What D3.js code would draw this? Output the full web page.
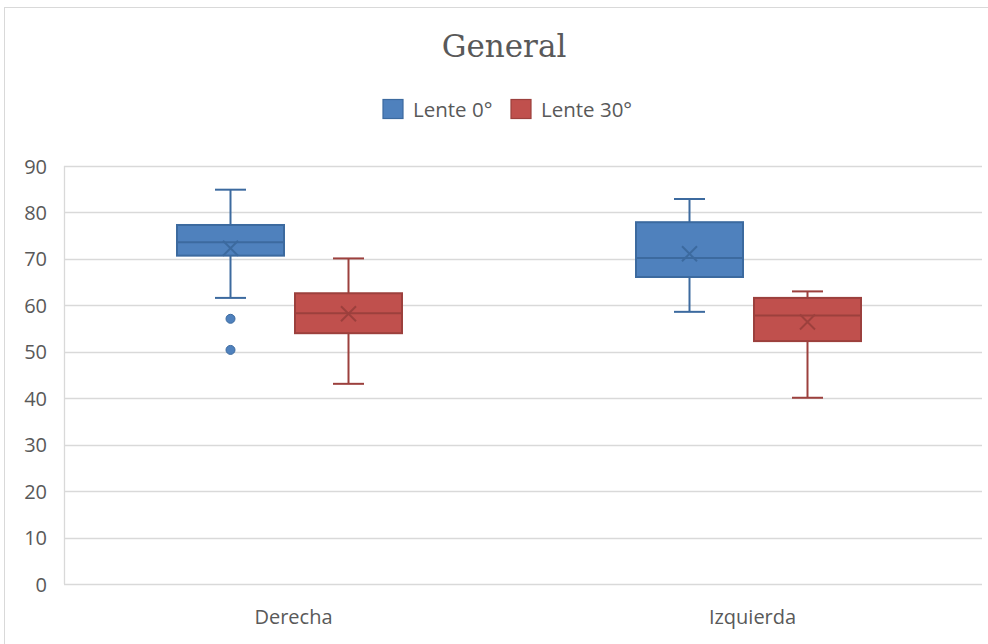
<!DOCTYPE html>
<html>
<head>
<meta charset="utf-8">
<script src="https://cdn.jsdelivr.net/npm/d3@7"></script>
<style>
  html, body { margin: 0; padding: 0; background: #fff; }
  svg { display: block; }
</style>
</head>
<body>
<svg id="chart" width="988" height="644"></svg>
<script>
// Box-plot summary per series, one value per category
const categories = ["Derecha", "Izquierda"];
const seriesNames = ["Lente 0°", "Lente 30°"];
const whiskerMin = [[61.6, 58.6], [43.1, 40.1]];
const quartile1  = [[70.7, 66.1], [54.0, 52.3]];
const medians    = [[73.6, 70.2], [58.3, 57.8]];
const quartile3  = [[77.3, 77.9], [62.6, 61.6]];
const whiskerMax = [[84.9, 82.9], [70.1, 63.0]];
const means      = [[72.3, 71.1], [58.2, 56.4]];
const outliers   = [[[57.1, 50.4], []], [[], []]];
const yTicks = [0, 10, 20, 30, 40, 50, 60, 70, 80, 90];

const fills   = ["#4F81BD", "#C0504D"];
const strokes = ["#3C6A9F", "#9C403D"];

const svg = d3.select("#chart");
const W = 988, H = 644;
const plot = { left: 64, right: 982, top: 166, bottom: 584 };

// outer chart frame
svg.append("rect")
  .attr("x", 4.5).attr("y", 7.5)
  .attr("width", W + 10).attr("height", H + 10)
  .attr("fill", "#fff").attr("stroke", "#d9d9d9").attr("stroke-width", 1);

// title
svg.append("text")
  .attr("x", 504).attr("y", 57)
  .attr("text-anchor", "middle")
  .attr("font-family", "'DejaVu Serif', serif")
  .attr("font-size", 31)
  .attr("fill", "#595959")
  .text("General");

const y = d3.scaleLinear().domain([0, 90]).range([plot.bottom, plot.top]);
const x0 = d3.scaleBand().domain(categories).range([plot.left, plot.right]).padding(0);
const groupW = 225, groupShift = -4;
const x1 = d3.scaleBand().domain(seriesNames)
  .range([(x0.bandwidth() - groupW) / 2 + groupShift, (x0.bandwidth() + groupW) / 2 + groupShift])
  .paddingInner(0.0932).paddingOuter(0);

// gridlines
const grid = svg.append("g").attr("class", "grid");
grid.selectAll("line").data(yTicks).join("line")
  .attr("x1", plot.left).attr("x2", plot.right)
  .attr("y1", d => Math.round(y(d)) + 0.5).attr("y2", d => Math.round(y(d)) + 0.5)
  .attr("stroke", "#d9d9d9").attr("stroke-width", 1.3);

// vertical axis line
svg.append("line")
  .attr("x1", plot.left + 0.5).attr("x2", plot.left + 0.5)
  .attr("y1", plot.top).attr("y2", plot.bottom)
  .attr("stroke", "#d9d9d9").attr("stroke-width", 1.3);

// y axis labels
const yAxis = d3.axisLeft(y).tickValues(yTicks).tickSize(0).tickPadding(17);
const yg = svg.append("g").attr("transform", `translate(${plot.left},0)`).call(yAxis);
yg.select(".domain").remove();
yg.selectAll("text")
  .attr("font-family", "'Open Sans', sans-serif")
  .attr("font-size", 20)
  .attr("fill", "#595959")
  .attr("dy", "0.35em");

// category labels
const xAxis = d3.axisBottom(x0).tickSize(0).tickPadding(26);
const xg = svg.append("g").attr("transform", `translate(0,${plot.bottom})`).call(xAxis);
xg.select(".domain").remove();
xg.selectAll("text")
  .attr("font-family", "'Open Sans', sans-serif")
  .attr("font-size", 20)
  .attr("fill", "#595959");

// boxes
seriesNames.forEach((s, si) => {
  const g = svg.append("g").attr("class", "series");
  categories.forEach((c, ci) => {
    const bx = x0(c) + x1(s);
    const bw = x1.bandwidth();
    const cx = bx + bw / 2;
    const capHalf = 15.5;
    const col = strokes[si];

    // whiskers
    g.append("line").attr("x1", cx).attr("x2", cx)
      .attr("y1", y(whiskerMax[si][ci])).attr("y2", y(quartile3[si][ci]))
      .attr("stroke", col).attr("stroke-width", 2);
    g.append("line").attr("x1", cx).attr("x2", cx)
      .attr("y1", y(quartile1[si][ci])).attr("y2", y(whiskerMin[si][ci]))
      .attr("stroke", col).attr("stroke-width", 2);
    [whiskerMax[si][ci], whiskerMin[si][ci]].forEach(v => {
      g.append("line").attr("x1", cx - capHalf).attr("x2", cx + capHalf)
        .attr("y1", y(v)).attr("y2", y(v))
        .attr("stroke", col).attr("stroke-width", 2);
    });

    // box
    g.append("rect")
      .attr("x", bx).attr("y", y(quartile3[si][ci]))
      .attr("width", bw).attr("height", y(quartile1[si][ci]) - y(quartile3[si][ci]))
      .attr("fill", fills[si]).attr("stroke", col).attr("stroke-width", 2);

    // median
    g.append("line").attr("x1", bx).attr("x2", bx + bw)
      .attr("y1", y(medians[si][ci])).attr("y2", y(medians[si][ci]))
      .attr("stroke", col).attr("stroke-width", 2);

    // mean marker
    const my = y(means[si][ci]), m = 7.5;
    g.append("path")
      .attr("d", `M${cx - m},${my - m}L${cx + m},${my + m}M${cx - m},${my + m}L${cx + m},${my - m}`)
      .attr("stroke", col).attr("stroke-width", 2).attr("fill", "none");

    // outliers
    outliers[si][ci].forEach(v => {
      g.append("circle").attr("cx", cx).attr("cy", y(v)).attr("r", 4.5)
        .attr("fill", fills[si]).attr("stroke", col).attr("stroke-width", 1);
    });
  });
});

// legend
const legend = svg.append("g").attr("class", "legend");
const legendX = [383, 511];
seriesNames.forEach((s, i) => {
  legend.append("rect")
    .attr("x", legendX[i]).attr("y", 99.5)
    .attr("width", 20).attr("height", 19)
    .attr("fill", fills[i]).attr("stroke", strokes[i]).attr("stroke-width", 1.2);
  legend.append("text")
    .attr("x", legendX[i] + 30).attr("y", 117)
    .attr("font-family", "'Open Sans', sans-serif")
    .attr("font-size", 20.5)
    .attr("fill", "#595959")
    .text(s);
});
</script>
</body>
</html>
